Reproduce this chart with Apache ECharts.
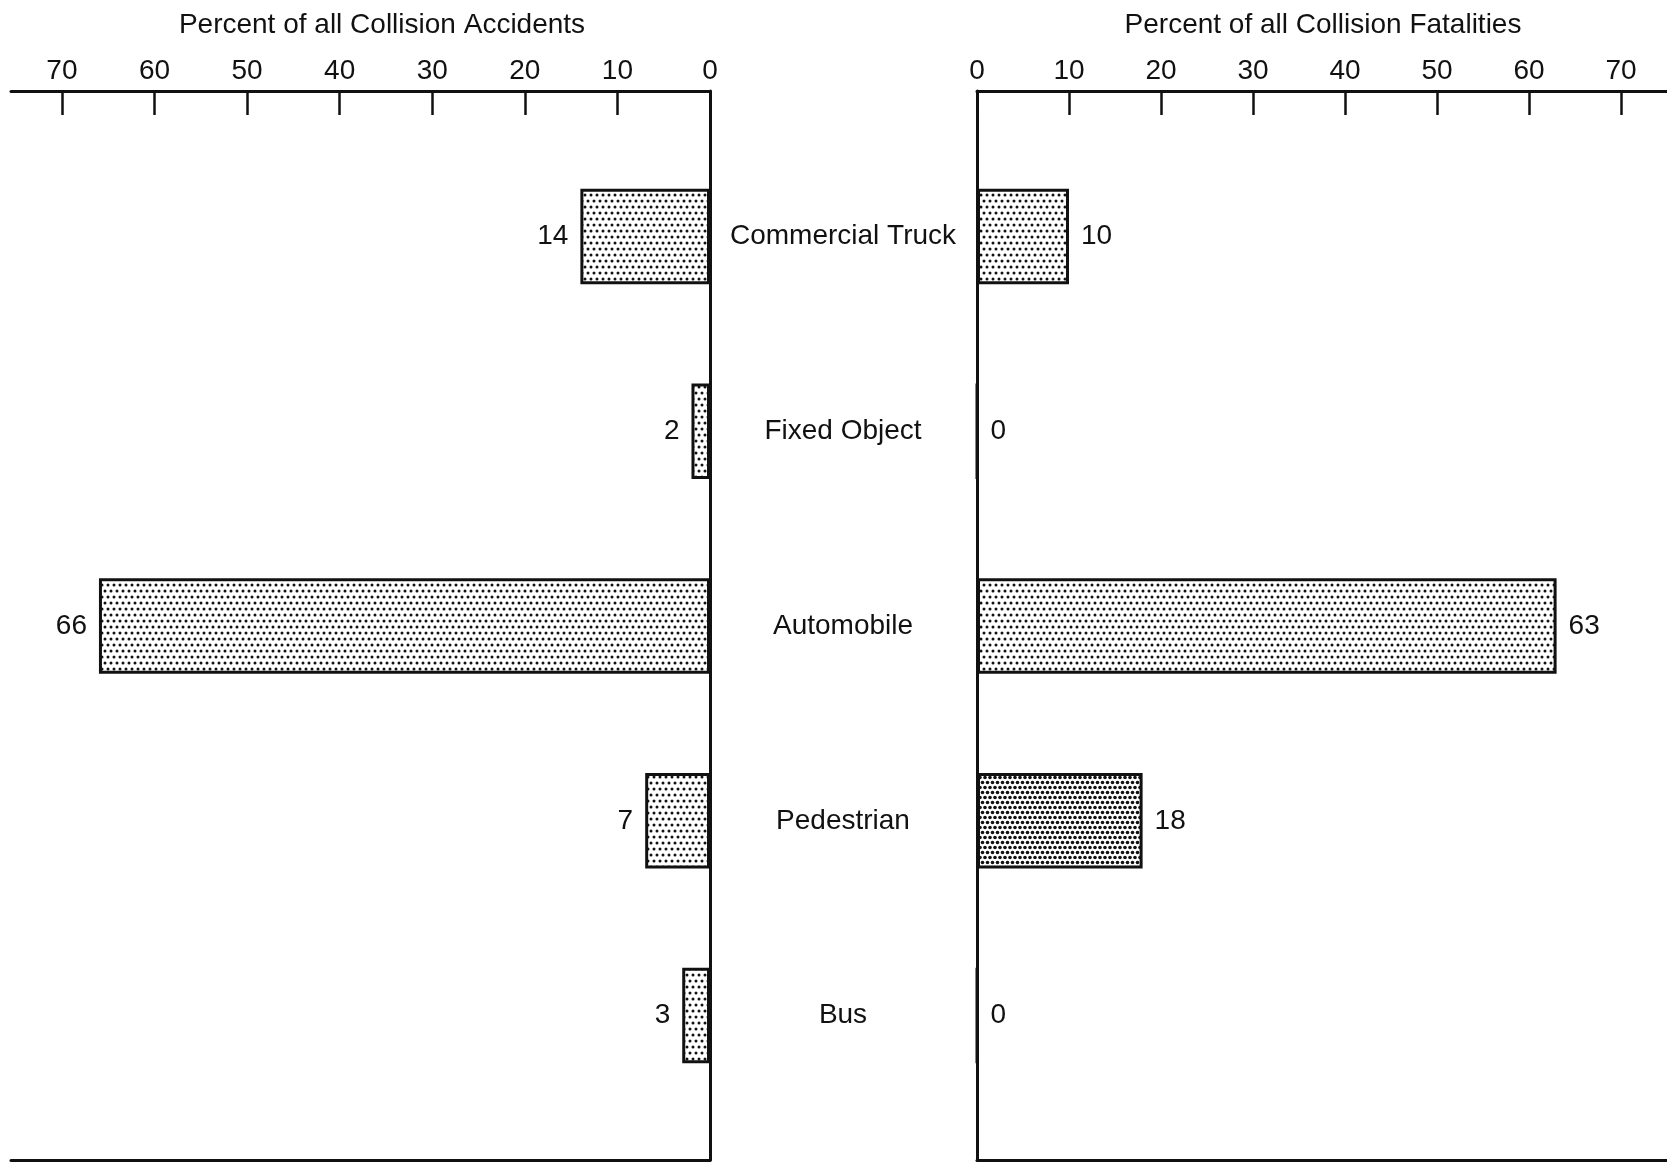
<!DOCTYPE html>
<html>
<head>
<meta charset="utf-8">
<script src="https://cdn.jsdelivr.net/npm/echarts@6/dist/echarts.min.js"></script>
<style>
  html, body { margin: 0; padding: 0; background: #fff; }
  #chart { width: 1667px; height: 1163px; }
</style>
</head>
<body>
<div id="chart"></div>
<script>
  // data
  const categories = ['Commercial Truck', 'Fixed Object', 'Automobile', 'Pedestrian', 'Bus'];
  const accidentPct = [14, 2, 66, 7, 3];
  const fatalityPct = [10, 0, 63, 18, 0];
  const tickValues = [0, 10, 20, 30, 40, 50, 60, 70];

  const FONT = '"Liberation Sans", Arial, sans-serif';
  const INK = '#111';
  const FS = 28;

  // dotted fill like the old print screen (staggered rows)
  function dotPattern(step, r) {
    const c = document.createElement('canvas');
    c.width = step * 2;
    c.height = step * 2;
    const ctx = c.getContext('2d');
    ctx.fillStyle = '#fff';
    ctx.fillRect(0, 0, c.width, c.height);
    ctx.fillStyle = '#111';
    [[step / 2, step / 2], [step * 1.5, step / 2], [0, step * 1.5], [step, step * 1.5], [step * 2, step * 1.5]].forEach(p => {
      ctx.beginPath();
      ctx.arc(p[0], p[1], r, 0, Math.PI * 2);
      ctx.fill();
    });
    return { image: c, repeat: 'repeat' };
  }

  const lightDots = dotPattern(6, 1.5);
  const denseDots = dotPattern(5, 1.8);

  function barData(values, denseIndex) {
    return values.map((v, i) => ({
      value: v,
      itemStyle: { color: i === denseIndex ? denseDots : lightDots }
    }));
  }

  const lineStyle = { color: INK, width: 3 };

  function topAxis(grid, inverse, max) {
    return {
      type: 'value', gridIndex: grid, position: 'top', inverse: inverse,
      min: 0, max: max,
      axisLine: { show: true, onZero: false, lineStyle: lineStyle },
      axisTick: { show: true, inside: true, length: 24, customValues: tickValues, lineStyle: { color: INK, width: 2.5 } },
      axisLabel: { customValues: tickValues, margin: 6, fontFamily: FONT, fontSize: FS, color: INK },
      splitLine: { show: false }
    };
  }
  function bottomLine(grid, inverse, max) {
    return {
      type: 'value', gridIndex: grid, position: 'bottom', inverse: inverse,
      min: 0, max: max,
      axisLine: { show: true, onZero: false, lineStyle: lineStyle },
      axisTick: { show: false }, axisLabel: { show: false }, splitLine: { show: false }
    };
  }
  function hiddenX(grid, inverse, max) {
    return { type: 'value', gridIndex: grid, inverse: inverse, min: 0, max: max, show: false };
  }
  function sideLine(grid, position) {
    return {
      type: 'value', gridIndex: grid, position: position, min: 0, max: 1,
      axisLine: { show: true, onZero: false, lineStyle: lineStyle },
      axisTick: { show: false }, axisLabel: { show: false }, splitLine: { show: false }
    };
  }

  const leftMax = 75.5;
  const rightMax = 75;

  const chart = echarts.init(document.getElementById('chart'));
  chart.setOption({
    backgroundColor: '#fff',
    animation: false,
    title: [
      { text: 'Percent of all Collision Accidents', left: 377, top: 6, textAlign: 'center',
        textStyle: { fontFamily: FONT, fontSize: FS, fontWeight: 'normal', color: INK } },
      { text: 'Percent of all Collision Fatalities', left: 1318, top: 6, textAlign: 'center',
        textStyle: { fontFamily: FONT, fontSize: FS, fontWeight: 'normal', color: INK } }
    ],
    grid: [
      { left: 11, right: 957, top: 91, bottom: 3 },
      { left: 11, right: 957, top: 139, bottom: 50 },
      { left: 977, right: 0, top: 91, bottom: 3 },
      { left: 977, right: 0, top: 139, bottom: 50 }
    ],
    xAxis: [
      topAxis(0, true, leftMax),
      bottomLine(0, true, leftMax),
      hiddenX(1, true, leftMax),
      topAxis(2, false, rightMax),
      bottomLine(2, false, rightMax),
      hiddenX(3, false, rightMax)
    ],
    yAxis: [
      sideLine(0, 'right'),
      { type: 'category', gridIndex: 1, inverse: true, data: categories, show: false },
      sideLine(2, 'left'),
      { type: 'category', gridIndex: 3, inverse: true, data: categories, position: 'left',
        axisLine: { show: false }, axisTick: { show: false },
        axisLabel: { margin: 134, align: 'center', fontFamily: FONT, fontSize: FS, color: INK } }
    ],
    series: [
      {
        name: 'Accidents', type: 'bar', xAxisIndex: 2, yAxisIndex: 1,
        barWidth: '49%',
        data: barData(accidentPct, -1),
        itemStyle: { borderColor: INK, borderWidth: 3 },
        label: { show: true, position: 'left', distance: 12, fontFamily: FONT, fontSize: FS, color: INK }
      },
      {
        name: 'Fatalities', type: 'bar', xAxisIndex: 5, yAxisIndex: 3,
        barWidth: '49%',
        data: barData(fatalityPct, 3),
        itemStyle: { borderColor: INK, borderWidth: 3 },
        label: { show: true, position: 'right', distance: 12, fontFamily: FONT, fontSize: FS, color: INK }
      }
    ]
  });
</script>
</body>
</html>
